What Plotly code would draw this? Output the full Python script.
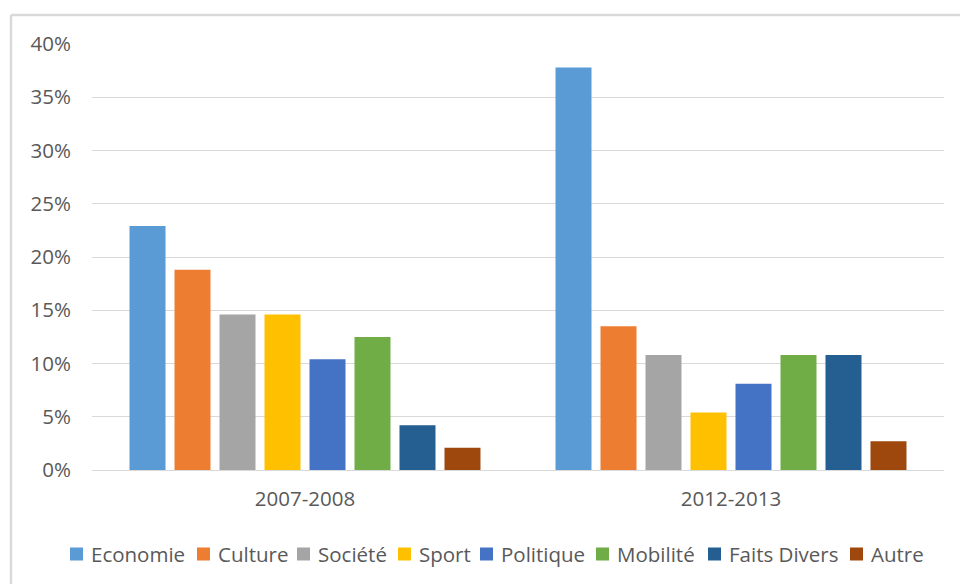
import plotly.graph_objects as go

periods = ["2007-2008", "2012-2013"]
series_names = ["Economie", "Culture", "Société", "Sport", "Politique", "Mobilité", "Faits Divers", "Autre"]
economie = [22.9, 37.8]
culture = [18.8, 13.5]
societe = [14.6, 10.8]
sport = [14.6, 5.4]
politique = [10.4, 8.1]
mobilite = [12.5, 10.8]
faits_divers = [4.2, 10.8]
autre = [2.1, 2.7]
y_ticks = [0, 5, 10, 15, 20, 25, 30, 35, 40]
y_tick_labels = ["0%", "5%", "10%", "15%", "20%", "25%", "30%", "35%", "40%"]

values = [economie, culture, societe, sport, politique, mobilite, faits_divers, autre]
colors = ["#5B9BD5", "#ED7D31", "#A5A5A5", "#FFC000", "#4472C4", "#70AD47", "#255E91", "#9E480E"]

font_family = "Open Sans, Noto Sans, sans-serif"
text_color = "#595959"
fsize = 20.5

fig = go.Figure()
for name, vals, col in zip(series_names, values, colors):
    fig.add_trace(go.Bar(
        x=periods, y=vals, name=name,
        marker=dict(color=col, line=dict(width=0)),
        hovertemplate="%{x}<br>" + name + ": %{y}%<extra></extra>",
    ))

W, H = 960, 584
ml, mr, mt, mb = 92, 16, 44, 114
pw = W - ml - mr
ph = H - mt - mb


def px_x(px):
    return (px - ml) / pw


def px_y(py):
    return (mt + ph - py) / ph


# manual legend (pixel layout positions of each legend square)
legend_square_x = [70, 197, 297, 398, 480, 596, 708, 850]
legend_y = 554
sq = 13
shapes = []
annotations = []
for name, col, lx in zip(series_names, colors, legend_square_x):
    shapes.append(dict(type="rect", xref="paper", yref="paper",
                       x0=px_x(lx), x1=px_x(lx + sq),
                       y0=px_y(legend_y - sq / 2), y1=px_y(legend_y + sq / 2),
                       fillcolor=col, line=dict(width=0)))
    annotations.append(dict(xref="paper", yref="paper", x=px_x(lx + sq + 6), y=px_y(legend_y),
                            xanchor="left", yanchor="middle", text=name, showarrow=False,
                            font=dict(size=fsize, color=text_color, family=font_family)))

# chart border (top and left edges visible)
shapes.append(dict(type="line", xref="paper", yref="paper",
                   x0=px_x(11), x1=px_x(W + 5), y0=px_y(15), y1=px_y(15),
                   line=dict(color="#d9d9d9", width=2.5)))
shapes.append(dict(type="line", xref="paper", yref="paper",
                   x0=px_x(11), x1=px_x(11), y0=px_y(15), y1=px_y(H + 5),
                   line=dict(color="#d9d9d9", width=2.5)))

fig.update_layout(
    width=W, height=H,
    margin=dict(l=ml, r=mr, t=mt, b=mb, autoexpand=False),
    paper_bgcolor="white", plot_bgcolor="white",
    barmode="group", bargap=0.155, bargroupgap=0.2,
    font=dict(family=font_family, color=text_color, size=fsize),
    showlegend=False,
    xaxis=dict(showgrid=False, showline=False, ticks="", tickfont=dict(size=fsize, color=text_color),
               ticklabelstandoff=14),
    yaxis=dict(range=[0, 40], tickvals=y_ticks, ticktext=y_tick_labels,
               showgrid=True, gridcolor="#d9d9d9", gridwidth=1,
               zeroline=True, zerolinecolor="#d9d9d9", zerolinewidth=1,
               showline=False, ticks="", tickfont=dict(size=fsize, color=text_color),
               ticklabelstandoff=20),
    shapes=shapes,
    annotations=annotations,
)

fig.write_html("out.html", config={"displayModeBar": False},
               post_script="document.body.style.margin='0px';document.body.style.overflow='hidden';")
